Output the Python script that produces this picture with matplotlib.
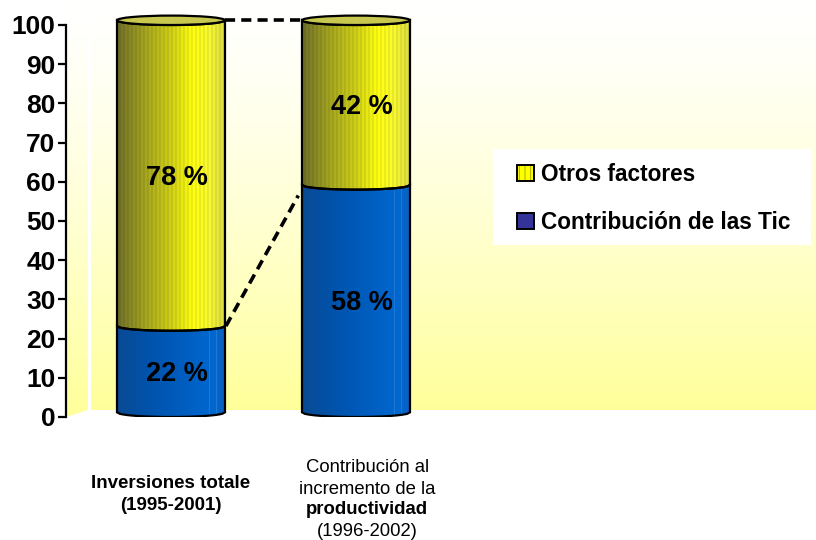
"""
Stacked cylinder chart: share of ICT in total investment vs. contribution to
productivity growth.  Recreated with matplotlib only.
"""

import matplotlib
matplotlib.use("Agg")
import matplotlib.pyplot as plt
import numpy as np
from matplotlib.colors import to_rgb
from matplotlib.legend_handler import HandlerTuple
from matplotlib.patches import Patch, PathPatch, Ellipse, Polygon, Rectangle
from matplotlib.path import Path


# --- data ----------------------------------------------------------------
series_names = ["Contribución de las Tic", "Otros factores"]
tic_share = [22, 58]          # bottom segment (blue)
other_share = [78, 42]        # top segment (yellow)
tick_values = list(range(0, 101, 10))

plt.rcParams["font.family"] = ["Liberation Sans", "DejaVu Sans"]

FIG_W, FIG_H = 816, 540
PX_PER_UNIT = 3.92            # vertical pixels per percentage point
BAR_STEP = 185                # pixels between bar centres
BAR_W = 108 / BAR_STEP
CAP = 1.2                     # half-height of the cylinder ellipse (data units)

fig = plt.figure(figsize=(FIG_W / 100, FIG_H / 100), dpi=100)
ax = fig.add_axes([66 / FIG_W, 123 / FIG_H, 750 / FIG_W, 417 / FIG_H])
xmin = -105 / BAR_STEP
ax.set_xlim(xmin, xmin + 750 / BAR_STEP)
ax.set_ylim(0, 417 / PX_PER_UNIT)


def vgrad(top, bottom, n=256):
    t = np.linspace(0, 1, n)[:, None] ** 1.3
    a, b = np.array(to_rgb(top)), np.array(to_rgb(bottom))
    return (a + (b - a) * t)[:, None, :].repeat(2, axis=1)


# back wall and left side wall (light gradient)
wall = vgrad("#ffffff", "#ffff9a")
floor_frac = 7 / 417
ax.imshow(wall, extent=[25 / 750, 1, floor_frac, 1], transform=ax.transAxes,
          aspect="auto", zorder=0, interpolation="bilinear")
side = ax.imshow(wall, extent=[0, 22 / 750, 0, 1], transform=ax.transAxes,
                 aspect="auto", zorder=0, interpolation="bilinear")
side_poly = Polygon([(0, 0), (22 / 750, floor_frac), (22 / 750, 1), (0, 1)],
                    closed=True, transform=ax.transAxes, facecolor="none",
                    edgecolor="none")
ax.add_patch(side_poly)
side.set_clip_path(side_poly)


def hgrad(stops, n=108, stripes=0.0, lines=()):
    xs = np.linspace(0, 1, n)
    pos = [s[0] for s in stops]
    cols = np.array([to_rgb(s[1]) for s in stops])
    img = np.stack([np.interp(xs, pos, cols[:, k]) for k in range(3)], axis=-1)
    if stripes:
        pattern = np.where((np.arange(n) // 2) % 2 == 0, 1.0, 1.0 - stripes)
        img = img * pattern[:, None]
    for frac in lines:
        k = int(frac * (n - 1))
        img[k] = img[k] * 0.88 + 0.12
    return np.clip(img, 0, 1)[None, :, :]


yellow_img = hgrad([(0, "#70702a"), (0.25, "#a4a420"), (0.5, "#d0d018"),
                    (0.7, "#ffff10"), (0.85, "#fafa30"), (1, "#dcdc40")],
                   stripes=0.07)
blue_img = hgrad([(0, "#0a4a94"), (0.3, "#0053ac"), (0.7, "#0060c4"),
                  (0.9, "#0068d0"), (1, "#0a60c0")], lines=(0.86, 0.93))


def front_arc(xc, level, reverse=False, n=40):
    hw = BAR_W / 2
    xs = np.linspace(xc - hw, xc + hw, n)
    ys = level + CAP * (1 - np.sqrt(np.clip(1 - ((xs - xc) / hw) ** 2, 0, 1)))
    pts = np.column_stack([xs, ys])
    return pts[::-1] if reverse else pts


def segment(xc, v0, v1, img):
    verts = np.vstack([front_arc(xc, v0), front_arc(xc, v1, reverse=True)])
    verts = np.vstack([verts, verts[:1]])
    path = Path(verts, closed=True)
    patch = PathPatch(path, facecolor="none", edgecolor="black", lw=1.6,
                      zorder=4)
    ax.add_patch(patch)
    im = ax.imshow(img, extent=[xc - BAR_W / 2, xc + BAR_W / 2, v0, v1 + CAP],
                   aspect="auto", zorder=3, interpolation="nearest")
    im.set_clip_path(patch)


for i, (low, high) in enumerate(zip(tic_share, other_share)):
    segment(i, 0, low, blue_img)
    segment(i, low, low + high, yellow_img)
    ax.add_patch(Ellipse((i, low + high + CAP), BAR_W, 2 * CAP,
                         facecolor="#c8c850", edgecolor="black", lw=1.6,
                         zorder=5))
    ax.text(i + 0.03, low / 2, f"{low} %", ha="center", va="center",
            fontsize=19.5, fontweight="bold", zorder=6)
    ax.text(i + 0.03, low + high / 2, f"{high} %", ha="center", va="center",
            fontsize=19.5, fontweight="bold", zorder=6)

# dashed connectors between the bars
dash = dict(color="black", lw=2.6, dashes=(2.8, 1.7), zorder=6)
ax.plot([BAR_W / 2, 1 - BAR_W / 2],
        [tic_share[0] + other_share[0] + CAP, tic_share[1] + other_share[1] + CAP],
        **dash)
ax.plot([BAR_W / 2 + 0.005, 1 - BAR_W / 2 - 0.02],
        [tic_share[0] + CAP, tic_share[1] - 1.5], **dash)

# axis styling
for name in ["top", "right", "bottom"]:
    ax.spines[name].set_visible(False)
ax.spines["left"].set_bounds(0, 100)
ax.spines["left"].set_linewidth(1.6)
ax.spines["left"].set_zorder(7)
ax.set_yticks(tick_values)
ax.tick_params(axis="y", length=6, width=1.6, pad=1.5, labelsize=19)
for lbl in ax.get_yticklabels():
    lbl.set_fontweight("bold")
ax.set_xticks([])


# category labels below the bars
def py(pix):
    return (417 - pix) / PX_PER_UNIT


ax.text(0, py(483), "Inversiones totale", ha="center", va="center",
        fontsize=13.5, fontweight="bold", clip_on=False)
ax.text(0, py(505), "(1995-2001)", ha="center", va="center",
        fontsize=13.5, fontweight="bold", clip_on=False)
ax.text(1.06, py(468), "Contribución al", ha="center", va="center",
        fontsize=13.3, clip_on=False)
ax.text(1.06, py(489), "incremento de la", ha="center", va="center",
        fontsize=13.3, clip_on=False)
ax.text(1.06, py(510), "productividad", ha="center", va="center",
        fontsize=13.3, fontweight="bold", clip_on=False)
ax.text(1.06, py(531), "(1996-2002)", ha="center", va="center",
        fontsize=13.3, clip_on=False)

# legend: white panel plus frameless legend on top of it
fig.patches.append(Rectangle((493 / FIG_W, 1 - 245 / FIG_H), 318 / FIG_W,
                             96 / FIG_H, transform=fig.transFigure,
                             facecolor="white", edgecolor="none", zorder=7))
plt.rcParams["hatch.linewidth"] = 0.8
yellow_hatch = Patch(facecolor="#ffff00", edgecolor="#b8b800", hatch="|||",
                     linewidth=0)
yellow_edge = Patch(facecolor="none", edgecolor="black", linewidth=1.4)
blue_patch = Patch(facecolor="#333399", edgecolor="black", linewidth=1.4)
leg = fig.legend([(yellow_hatch, yellow_edge), blue_patch],
                 [series_names[1], series_names[0]],
                 handler_map={tuple: HandlerTuple(ndivide=1, pad=0)},
                 loc="upper left",
                 bbox_to_anchor=(517 / FIG_W, 1 - 163 / FIG_H),
                 prop={"weight": "bold", "size": 16.3},
                 frameon=False,
                 handlelength=0.74, handleheight=0.74, handletextpad=0.3,
                 labelspacing=1.1, borderpad=0, borderaxespad=0)
leg.set_zorder(8)

fig.savefig("out.png", dpi=100)
